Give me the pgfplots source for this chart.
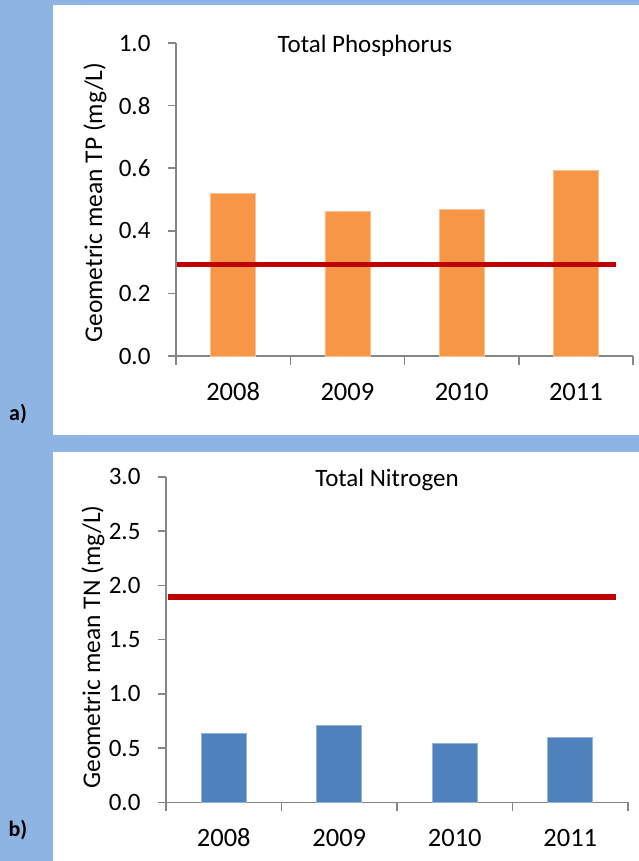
\documentclass[border=0pt]{standalone}
\usepackage{fontspec}
\setmainfont{Carlito}
\usepackage{pgfplots}
\pgfplotsset{compat=1.18}
\definecolor{bgblue}{HTML}{8EB4E3}
\definecolor{axgray}{HTML}{868686}
\definecolor{tporange}{HTML}{F79646}
\definecolor{tnblue}{HTML}{4F81BD}
\definecolor{limred}{HTML}{C00000}
\pgfplotsset{
  panel/.style={
    scale only axis,
    xmin=-0.5, xmax=3.5, ymin=0,
    axis x line*=bottom, axis y line*=left,
    axis line style={draw=axgray, line width=1.5pt, -},
    xtick={0,1,2,3}, xticklabels={2008,2009,2010,2011},
    minor xtick={-0.5,0.5,1.5,2.5,3.5},
    major x tick style={draw=none},
    minor x tick style={draw=axgray, line width=1.5pt},
    ytick style={draw=axgray, line width=1.5pt},
    tick align=outside,
    major tick length=8pt, minor tick length=9pt,
    tick label style={font=\fontsize{25}{29}\selectfont},
    xticklabel style={font=\fontsize{26.5}{30}\selectfont, anchor=base, yshift=-36pt},
    label style={font=\fontsize{25.5}{29}\selectfont},
    /pgf/number format/assume math mode=true,
    yticklabel style={xshift=-14pt, /pgf/number format/.cd, fixed, fixed zerofill, precision=1},
  }
}
\begin{document}
\begin{tikzpicture}
\useasboundingbox (0pt,0pt) rectangle (639pt,-861pt);
\fill[bgblue] (0pt,0pt) rectangle (639pt,-861pt);
\fill[white] (53pt,-5pt) rectangle (639pt,-435pt);
\fill[white] (53pt,-452pt) rectangle (639pt,-861pt);
\node[font=\fontsize{22}{26}\selectfont\bfseries] at (18pt,-414pt) {a)};
\node[font=\fontsize{22}{26}\selectfont\bfseries] at (18pt,-830pt) {b)};
\node[font=\fontsize{25}{29}\selectfont, anchor=base] at (365pt,-52.7pt) {Total Phosphorus};
\node[font=\fontsize{25}{29}\selectfont, anchor=base] at (387pt,-486pt) {Total Nitrogen};

\begin{axis}[panel, at={(176pt,-356pt)}, anchor=south west,
  width=457pt, height=313pt, ymax=1,
  ytick={0,0.2,0.4,0.6,0.8,1},
  ylabel={Geometric mean TP (mg/L)},
  ylabel style={at={(axis description cs:-0.177,0.49)}, anchor=center}]
\addplot[ybar, bar width=45pt, fill=tporange, draw=tporange!60!white, line width=0.6pt]
  coordinates {(0,0.520) (1,0.461) (2,0.469) (3,0.594)};
\addplot[sharp plot, no marks, draw=limred, line width=5.5pt]
  coordinates {(-0.49,0.293) (3.35,0.293)};
\end{axis}

\begin{axis}[panel, at={(166pt,-802.3pt)}, anchor=south west,
  width=462pt, height=325.5pt, ymax=3,
  ytick={0,0.5,1,1.5,2,2.5,3},
  ylabel={Geometric mean TN (mg/L)},
  ylabel style={at={(axis description cs:-0.158,0.477)}, anchor=center}]
\addplot[ybar, bar width=45pt, fill=tnblue, draw=tnblue!60!white, line width=0.6pt]
  coordinates {(0,0.636) (1,0.71) (2,0.544) (3,0.60)};
\addplot[sharp plot, no marks, draw=limred, line width=5.5pt]
  coordinates {(-0.483,1.894) (3.396,1.894)};
\end{axis}
\end{tikzpicture}
\end{document}
